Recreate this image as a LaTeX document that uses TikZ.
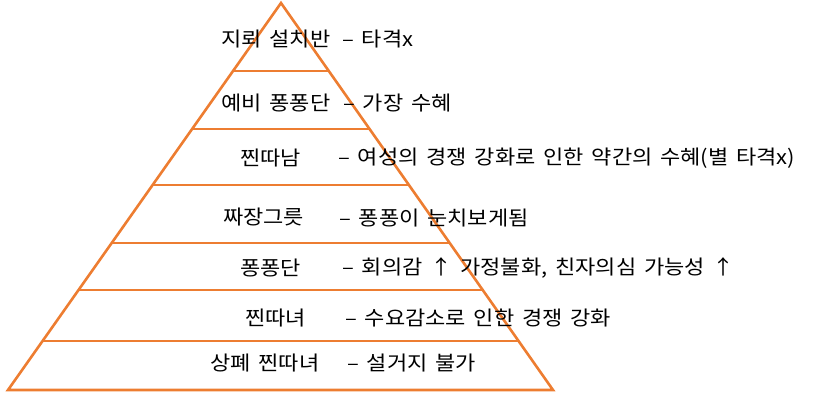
\documentclass[tikz,border=0pt]{standalone}
\usepackage{fontspec}
\setmainfont{Noto Sans CJK KR}[WordSpace=1.6,FakeStretch=1.1]
\usepackage{tikz}
\usetikzlibrary{calc}
\definecolor{pyrorange}{RGB}{237,125,49}

\begin{document}
\begin{tikzpicture}[x=1pt,y=-1pt,
    layer/.style={draw=pyrorange,line width=2.6pt},
    lab/.style={anchor=west,inner sep=0pt,font=\fontsize{20}{24}\selectfont},
    desc/.style={lab}]
  \useasboundingbox (0,0) rectangle (815,414);
  \coordinate (top) at (281,3);
  \coordinate (bl)  at (8,390);
  \coordinate (br)  at (553,390);
  \draw[layer] (top) -- (bl) -- (br) -- cycle;
  \foreach \y in {71,129,185,243,290,341}
    \draw[layer] ($(top)!{(\y-3)/387}!(bl)$) -- ($(top)!{(\y-3)/387}!(br)$);
  \node[lab]  (l1) at (221,39)  {지뢰 설치반};
  \node[desc] (d1) at (342,39)  {– 타격x};
  \node[lab]  (l2) at (221,103) {예비 퐁퐁단};
  \node[desc] (d2) at (343,103) {– 가장 수혜};
  \node[lab]  (l3) at (240,158) {찐따남};
  \node[desc] (d3) at (338,158) {– 여성의 경쟁 강화로 인한 약간의 수혜(별 타격x)};
  \node[lab]  (l4) at (223,217) {짜장그릇};
  \node[desc] (d4) at (339,218) {– 퐁퐁이 눈치보게됨};
  \node[lab]  (l5) at (240,268) {퐁퐁단};
  \node[desc] (d5) at (342,268) {– 회의감 ↑ 가정불화, 친자의심 가능성 ↑};
  \node[lab]  (l6) at (245,318) {찐따녀};
  \node[desc] (d6) at (345,318) {– 수요감소로 인한 경쟁 강화};
  \node[lab]  (l7) at (210,363) {상폐 찐따녀};
  \node[desc] (d7) at (347,363) {– 설거지 불가};
\end{tikzpicture}
\end{document}
